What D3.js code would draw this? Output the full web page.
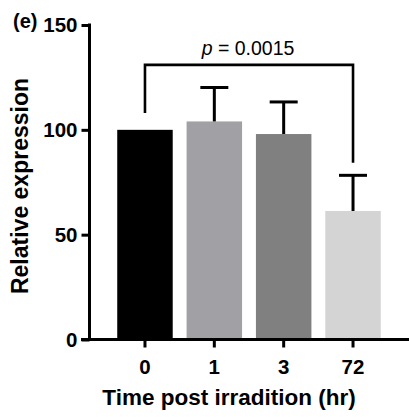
<!DOCTYPE html>
<html>
<head>
<meta charset="utf-8">
<script src="https://cdn.jsdelivr.net/npm/d3@7"></script>
<style>
  body { margin: 0; background: #fff; }
  text { font-family: "Liberation Sans", Arial, Helvetica, sans-serif; }
</style>
</head>
<body>
<svg id="chart"></svg>
<script>
// data
const categories = ['0', '1', '3', '72'];
const means = [100, 104, 98, 61.3];
const errors = [0, 16.2, 15.3, 17];
const barColors = ['#000000', '#a1a1a5', '#808080', '#d4d4d4'];
const yTicks = [0, 50, 100, 150];
// significance bracket: from group, to group, top level, left foot, right foot
const sigFrom = '0';
const sigTo = '72';
const sigLevels = [131, 108, 84.3];
const sigLabel = '0.0015';

const width = 409, height = 417;

const svg = d3.select('#chart')
    .attr('width', width)
    .attr('height', height);

const xScale = d3.scaleBand()
    .domain(categories)
    .range([110.3, 387.7])
    .paddingInner(0.2)
    .paddingOuter(0.1);

const yScale = d3.scaleLinear()
    .domain([0, 150])
    .range([339.5, 25]);

// bars
svg.selectAll('.bar')
    .data(categories)
    .join('rect')
    .attr('class', 'bar')
    .attr('x', d => xScale(d))
    .attr('width', xScale.bandwidth())
    .attr('y', (d, i) => yScale(means[i]))
    .attr('height', (d, i) => yScale(0) - yScale(means[i]))
    .attr('fill', (d, i) => barColors[i]);

// error bars (upper only)
const errG = svg.append('g')
    .attr('stroke', '#000')
    .attr('stroke-width', 3);

categories.forEach((c, i) => {
    if (!errors[i]) return;
    const cx = xScale(c) + xScale.bandwidth() / 2;
    errG.append('line')
        .attr('x1', cx).attr('x2', cx)
        .attr('y1', yScale(means[i]))
        .attr('y2', yScale(means[i] + errors[i]));
    errG.append('line')
        .attr('x1', cx - 14).attr('x2', cx + 14)
        .attr('y1', yScale(means[i] + errors[i]))
        .attr('y2', yScale(means[i] + errors[i]));
});

// y axis
const yAxis = d3.axisLeft(yScale)
    .tickValues(yTicks)
    .tickSize(8)
    .tickSizeOuter(0)
    .tickPadding(4);

const yAxisG = svg.append('g')
    .attr('transform', 'translate(89.5,0)')
    .call(yAxis);

yAxisG.select('.domain')
    .attr('stroke-width', 3)
    .attr('d', `M0,${yScale(150) - 1.5}V${yScale(0)}`);
yAxisG.selectAll('.tick line').attr('stroke-width', 3);
yAxisG.selectAll('.tick text')
    .style('font-size', '20.5px')
    .style('font-weight', 'bold')
    .attr('fill', '#000');

// x axis
const xAxis = d3.axisBottom(xScale)
    .tickSize(8)
    .tickSizeOuter(0)
    .tickPadding(12);

const xAxisG = svg.append('g')
    .attr('transform', `translate(0,${yScale(0)})`)
    .call(xAxis);

xAxisG.select('.domain')
    .attr('stroke-width', 3)
    .attr('d', 'M81,0H409');
xAxisG.selectAll('.tick line').attr('stroke-width', 3);
xAxisG.selectAll('.tick text')
    .style('font-size', '20.5px')
    .style('font-weight', 'bold')
    .attr('fill', '#000');

// significance bracket
const bx1 = xScale(sigFrom) + xScale.bandwidth() / 2;
const bx2 = xScale(sigTo) + xScale.bandwidth() / 2;
svg.append('path')
    .attr('fill', 'none')
    .attr('stroke', '#000')
    .attr('stroke-width', 2.6)
    .attr('d', `M${bx1},${yScale(sigLevels[1])}V${yScale(sigLevels[0])}H${bx2}V${yScale(sigLevels[2])}`);

const pText = svg.append('text')
    .attr('x', (bx1 + bx2) / 2 - 1)
    .attr('y', 55)
    .attr('text-anchor', 'middle')
    .style('font-size', '19.5px');
pText.append('tspan').style('font-style', 'italic').text('p');
pText.append('tspan').text(' = ' + sigLabel);

// titles
svg.append('text')
    .attr('x', 229)
    .attr('y', 405)
    .attr('text-anchor', 'middle')
    .style('font-size', '22.5px')
    .style('font-weight', 'bold')
    .text('Time post irradition (hr)');

svg.append('text')
    .attr('transform', 'translate(28,186) rotate(-90)')
    .attr('text-anchor', 'middle')
    .style('font-size', '23px')
    .style('font-weight', 'bold')
    .text('Relative expression');

svg.append('text')
    .attr('x', 13)
    .attr('y', 28)
    .style('font-size', '20px')
    .style('font-weight', 'bold')
    .text('(e)');
</script>
</body>
</html>
